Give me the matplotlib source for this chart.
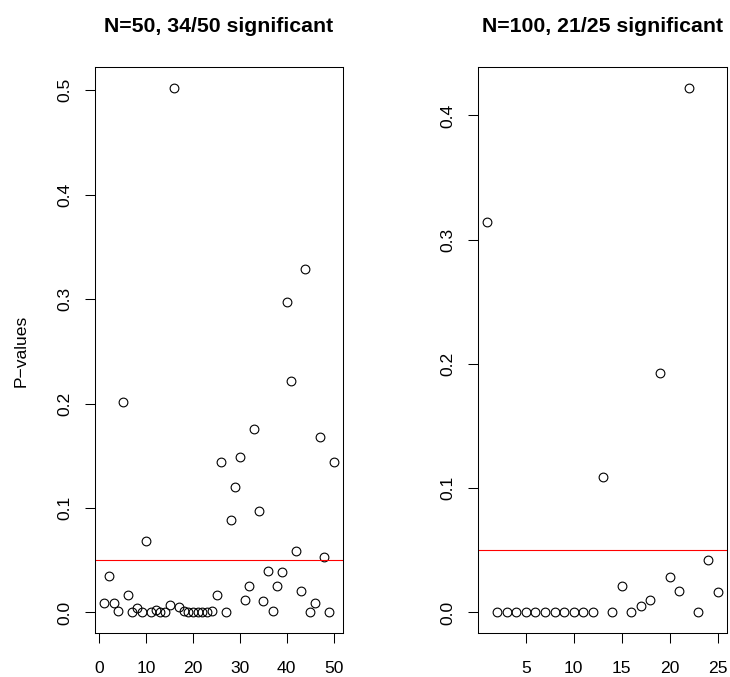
import matplotlib
matplotlib.use('Agg')
import matplotlib.pyplot as plt
import numpy as np

plt.rcParams['font.family'] = ['Liberation Sans', 'DejaVu Sans']

# p-values, one per simulation run
pvals_50 = [0.009, 0.035, 0.009, 0.001, 0.202, 0.017, 0.0, 0.0045, 0.0, 0.068,
            0.0, 0.0026, 0.0, 0.0, 0.007, 0.502, 0.0054, 0.0013, 0.0, 0.0,
            0.0, 0.0, 0.0, 0.001, 0.017, 0.144, 0.0, 0.089, 0.120, 0.149,
            0.012, 0.025, 0.176, 0.097, 0.011, 0.040, 0.001, 0.025, 0.039, 0.2975,
            0.222, 0.059, 0.021, 0.329, 0.0, 0.009, 0.168, 0.053, 0.0, 0.144]
pvals_100 = [0.314, 0.0, 0.0, 0.0, 0.0, 0.0, 0.0, 0.0, 0.0, 0.0,
             0.0, 0.0008, 0.109, 0.0, 0.021, 0.0, 0.0051, 0.0102, 0.193, 0.0282,
             0.0172, 0.4219, 0.0, 0.042, 0.0161]
titles = ['N=50, 34/50 significant', 'N=100, 21/25 significant']
xticks = [[0, 10, 20, 30, 40, 50], [5, 10, 15, 20, 25]]
yticks = [[0.0, 0.1, 0.2, 0.3, 0.4, 0.5], [0.0, 0.1, 0.2, 0.3, 0.4]]
alpha = 0.05

fig = plt.figure(figsize=(7.3, 6.77), dpi=100)
axes = [fig.add_axes([0.1301, 0.0643, 0.3394, 0.8363]),
        fig.add_axes([0.6552, 0.0643, 0.3403, 0.8363])]


def r_range(lo, hi):
    # R style 4% padding around the data
    d = (hi - lo) * 0.04
    return lo - d, hi + d


for ax, p, title, xt, yt in zip(axes, [pvals_50, pvals_100], titles, xticks, yticks):
    x = np.arange(1, len(p) + 1)
    ax.plot(x, p, 'o', mfc='none', mec='black', ms=6.3, mew=0.8)
    ax.axhline(alpha, color='red', lw=0.8)
    ax.set_xlim(*r_range(1, len(p)))
    ax.set_ylim(*r_range(min(p), max(p)))
    ax.set_xticks(xt)
    ax.set_yticks(yt)
    ax.set_yticklabels(['%.1f' % v for v in yt])
    ax.tick_params(length=7.5, width=0.75, labelsize=12.6, direction='out')
    ax.tick_params(axis='x', pad=12)
    ax.tick_params(axis='y', pad=9, labelrotation=90)
    for lab in ax.get_yticklabels():
        lab.set_va('center')
    for s in ax.spines.values():
        s.set_linewidth(0.75)
    ax.set_title(title, fontsize=15.3, fontweight='bold', pad=25.6)

axes[0].set_ylabel('P\u2212values', fontsize=12.6)
axes[0].yaxis.set_label_coords(-0.268, 0.5)

plt.savefig('out.png', dpi=100)
